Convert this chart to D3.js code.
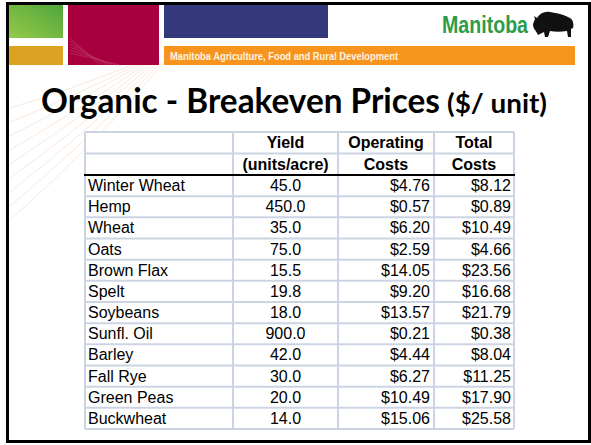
<!DOCTYPE html>
<html>
<head>
<meta charset="utf-8">
<script src="https://cdn.jsdelivr.net/npm/d3@7"></script>
<style>
  html, body { margin: 0; padding: 0; background: #fff; }
  svg { display: block; }
</style>
</head>
<body>
<div id="slide"></div>
<script>
// table data
const crops = ["Winter Wheat", "Hemp", "Wheat", "Oats", "Brown Flax", "Spelt",
               "Soybeans", "Sunfl. Oil", "Barley", "Fall Rye", "Green Peas", "Buckwheat"];
const yields = [45.0, 450.0, 35.0, 75.0, 15.5, 19.8, 18.0, 900.0, 42.0, 30.0, 20.0, 14.0];
const operatingCosts = [4.76, 0.57, 6.20, 2.59, 14.05, 9.20, 13.57, 0.21, 4.44, 6.27, 10.49, 15.06];
const totalCosts = [8.12, 0.89, 10.49, 4.66, 23.56, 16.68, 21.79, 0.38, 8.04, 11.25, 17.90, 25.58];
const headerTop = ["", "Yield", "Operating", "Total"];
const headerBottom = ["", "(units/acre)", "Costs", "Costs"];

const W = 591, H = 445;
const svg = d3.select("#slide").append("svg")
    .attr("width", W)
    .attr("height", H);

svg.append("rect").attr("width", W).attr("height", H).attr("fill", "#fff");

const defs = svg.append("defs");
const green = defs.append("linearGradient").attr("id", "green").attr("x1", 0).attr("y1", 1).attr("x2", 1).attr("y2", 0);
green.append("stop").attr("offset", 0).attr("stop-color", "#95c94a");
green.append("stop").attr("offset", 1).attr("stop-color", "#4fa63b");

// faint rays behind the title
const rays = svg.append("g").attr("fill", "none").attr("stroke", "#f8e2d2").attr("stroke-width", 1);
d3.range(9).forEach(i => {
    const a = 8 + i * 14;
    rays.append("path")
        .attr("d", `M${140 + i * 3},62 Q${70 + i * 4},${90 + i * 6} ${10},${a + 100}`)
        .attr("opacity", 0.8);
});

// header banner
svg.append("rect").attr("x", 9).attr("y", 5).attr("width", 54).attr("height", 33).attr("fill", "url(#green)");
svg.append("rect").attr("x", 9).attr("y", 46).attr("width", 54).attr("height", 19).attr("fill", "#dba321");
svg.append("rect").attr("x", 68).attr("y", 5).attr("width", 91).attr("height", 60).attr("fill", "#a8003f");
svg.append("rect").attr("x", 164).attr("y", 5).attr("width", 164).attr("height", 33).attr("fill", "#33397a");
svg.append("rect").attr("x", 164).attr("y", 46).attr("width", 411).attr("height", 19).attr("fill", "#f7941e");

// light streaks on the crimson block
const streaks = svg.append("g").attr("stroke", "#c2406a").attr("stroke-width", 0.8).attr("opacity", 0.7);
d3.range(6).forEach(i => {
    streaks.append("line")
        .attr("x1", 70).attr("y1", 38 + i * 3)
        .attr("x2", 100 + i * 4).attr("y2", 65);
});

svg.append("text")
    .attr("x", 170).attr("y", 60)
    .attr("font-family", "'Liberation Sans Narrow', 'Liberation Sans', sans-serif")
    .attr("font-weight", "bold")
    .attr("font-size", 10.5)
    .attr("fill", "#fff3e0")
    .attr("textLength", 228)
    .attr("lengthAdjust", "spacingAndGlyphs")
    .text("Manitoba Agriculture, Food and Rural Development");

svg.append("text")
    .attr("x", 442).attr("y", 33)
    .attr("font-family", "'Liberation Sans Narrow', 'Liberation Sans', sans-serif")
    .attr("font-weight", "bold")
    .attr("font-size", 24)
    .attr("fill", "#2c9c48")
    .attr("textLength", 86)
    .attr("lengthAdjust", "spacingAndGlyphs")
    .text("Manitoba");

// bison
svg.append("path")
    .attr("transform", "translate(533,12)")
    .attr("fill", "#111")
    .attr("d", "M0,12 L2,7 L1,4 L4,6 C7,1 12,-1 17,0 C24,1 32,3 37,6 C40,8 41,12 40,16 L38,17 L38,25 L35,25 L34,19 C28,20 22,20 17,19 L15,25 L12,25 L11,20 C9,21 7,22 5,23 C4,21 3,19 2,18 C1,17 0,15 0,12 Z");

// title
const title = svg.append("g").attr("font-family", "Lato, 'Open Sans', sans-serif").attr("font-weight", "bold").attr("fill", "#000");
title.append("text")
    .attr("x", 41).attr("y", 113)
    .attr("font-size", 34)
    .attr("textLength", 399)
    .attr("lengthAdjust", "spacingAndGlyphs")
    .text("Organic - Breakeven Prices");
title.append("text")
    .attr("x", 447).attr("y", 113)
    .attr("font-size", 26)
    .attr("textLength", 100)
    .attr("lengthAdjust", "spacingAndGlyphs")
    .text("($/ unit)");

// table
const colEdges = [85, 233, 338, 434, 514];
const y = d3.scaleBand().domain(crops).range([175, 429]);
const hy = d3.scaleBand().domain([0, 1]).range([132, 175]);
const fmtYield = d3.format(".1f");
const fmtCost = d3.format("$.2f");

const table = svg.append("g").attr("font-family", "'Liberation Sans', Arial, sans-serif").attr("font-size", 16);

table.append("rect")
    .attr("x", colEdges[0]).attr("y", hy.range()[0])
    .attr("width", colEdges[4] - colEdges[0]).attr("height", y.range()[1] - hy.range()[0])
    .attr("fill", "#fff");

const gridColor = "#ccd4e4";
const hLines = [hy(0), hy(1)].concat(crops.slice(1).map(c => y(c))).concat([y.range()[1]]);
table.selectAll("line.h").data(hLines).join("line")
    .attr("class", "h")
    .attr("x1", colEdges[0]).attr("x2", colEdges[4])
    .attr("y1", d => d).attr("y2", d => d)
    .attr("stroke", gridColor).attr("stroke-width", 2);
table.selectAll("line.v").data(colEdges).join("line")
    .attr("class", "v")
    .attr("x1", d => d).attr("x2", d => d)
    .attr("y1", hy.range()[0]).attr("y2", y.range()[1])
    .attr("stroke", gridColor).attr("stroke-width", 2);
table.append("line")
    .attr("x1", colEdges[0] - 1).attr("x2", colEdges[4] + 1)
    .attr("y1", y.range()[0]).attr("y2", y.range()[0])
    .attr("stroke", "#000").attr("stroke-width", 2);

const colCenter = i => (colEdges[i] + colEdges[i + 1]) / 2;

[headerTop, headerBottom].forEach((row, r) => {
    table.selectAll(`text.hd${r}`).data(row).join("text")
        .attr("class", `hd${r}`)
        .attr("x", (d, i) => colCenter(i))
        .attr("y", hy(r) + hy.bandwidth() / 2 + 5.5)
        .attr("text-anchor", "middle")
        .attr("font-weight", "bold")
        .text(d => d);
});

const rows = crops.map((c, i) => ({ crop: c, yld: yields[i], op: operatingCosts[i], tot: totalCosts[i] }));
const rowY = d => y(d.crop) + y.bandwidth() / 2 + 5.5;

table.selectAll("text.crop").data(rows).join("text")
    .attr("class", "crop")
    .attr("x", colEdges[0] + 3).attr("y", rowY)
    .text(d => d.crop);
table.selectAll("text.yld").data(rows).join("text")
    .attr("class", "yld")
    .attr("x", colCenter(1)).attr("y", rowY)
    .attr("text-anchor", "middle")
    .text(d => fmtYield(d.yld));
table.selectAll("text.op").data(rows).join("text")
    .attr("class", "op")
    .attr("x", colEdges[3] - 4).attr("y", rowY)
    .attr("text-anchor", "end")
    .text(d => fmtCost(d.op));
table.selectAll("text.tot").data(rows).join("text")
    .attr("class", "tot")
    .attr("x", colEdges[4] - 3).attr("y", rowY)
    .attr("text-anchor", "end")
    .text(d => fmtCost(d.tot));

// slide frame
svg.append("rect")
    .attr("x", 7.5).attr("y", 3.5)
    .attr("width", 582).attr("height", 438)
    .attr("fill", "none").attr("stroke", "#000").attr("stroke-width", 3);
</script>
</body>
</html>
